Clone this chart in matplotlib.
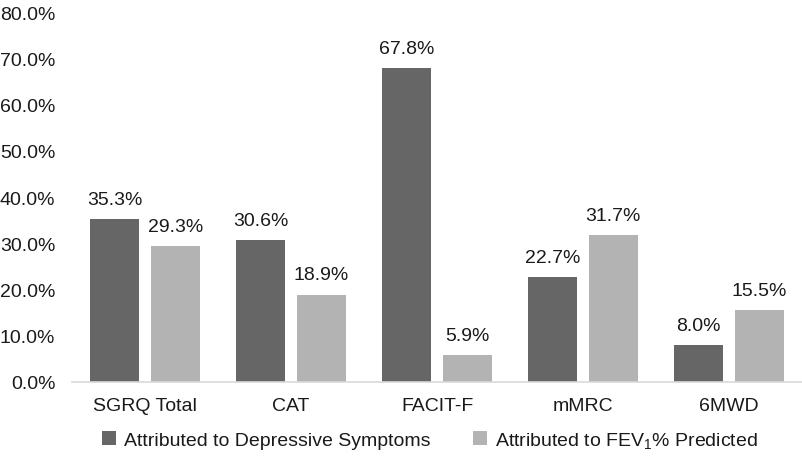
import matplotlib
matplotlib.use("Agg")
import matplotlib.pyplot as plt
import numpy as np

plt.rcParams["font.family"] = ["Liberation Sans", "DejaVu Sans"]
plt.rcParams["mathtext.fontset"] = "custom"
plt.rcParams["mathtext.rm"] = "Liberation Sans"

categories = ["SGRQ Total", "CAT", "FACIT-F", "mMRC", "6MWD"]
depressive = [35.3, 30.6, 67.8, 22.7, 8.0]
fev1 = [29.3, 18.9, 5.9, 31.7, 15.5]
series_names = ["Attributed to Depressive Symptoms",
                r"Attributed to FEV$\mathregular{_1}$% Predicted"]

dark = "#666666"
light = "#b3b3b3"
fs = 14

fig = plt.figure(figsize=(8.02, 4.6), dpi=100)
ax = fig.add_axes([0.0898, 0.1674, 0.9102, 0.8043])

x = np.arange(len(categories))
w = 0.335
off = 0.207
b1 = ax.bar(x - off, depressive, width=w, color=dark, label=series_names[0])
b2 = ax.bar(x + off, fev1, width=w, color=light, label=series_names[1])

for bars, vals in ((b1, depressive), (b2, fev1)):
    for rect, v in zip(bars, vals):
        ax.annotate(f"{v:.1f}%", (rect.get_x() + rect.get_width() / 2, v),
                    xytext=(0, 8), textcoords="offset points",
                    ha="center", va="bottom", fontsize=fs, color="#1a1a1a")

ax.set_xlim(-0.5, 4.5)
ax.set_ylim(0, 80)
ax.set_yticks(np.arange(0, 81, 10))
ax.set_yticklabels([f"{t:.1f}%" for t in np.arange(0, 81, 10)])
ax.set_xticks(x)
ax.set_xticklabels(categories)
ax.tick_params(axis="both", length=0, labelsize=fs, labelcolor="#1a1a1a")
ax.tick_params(axis="y", pad=12)
ax.tick_params(axis="x", pad=11)

for s in ("top", "right", "left"):
    ax.spines[s].set_visible(False)
ax.spines["bottom"].set_color("#d9d9d9")
ax.spines["bottom"].set_linewidth(1.2)

fig.legend(loc="center", bbox_to_anchor=(0.536, 1 - 441 / 460), ncol=2,
           frameon=False, fontsize=fs, handlelength=0.7, handleheight=0.7,
           handletextpad=0.4, columnspacing=2.2, labelcolor="#1a1a1a")

fig.savefig("out.png", dpi=100)
